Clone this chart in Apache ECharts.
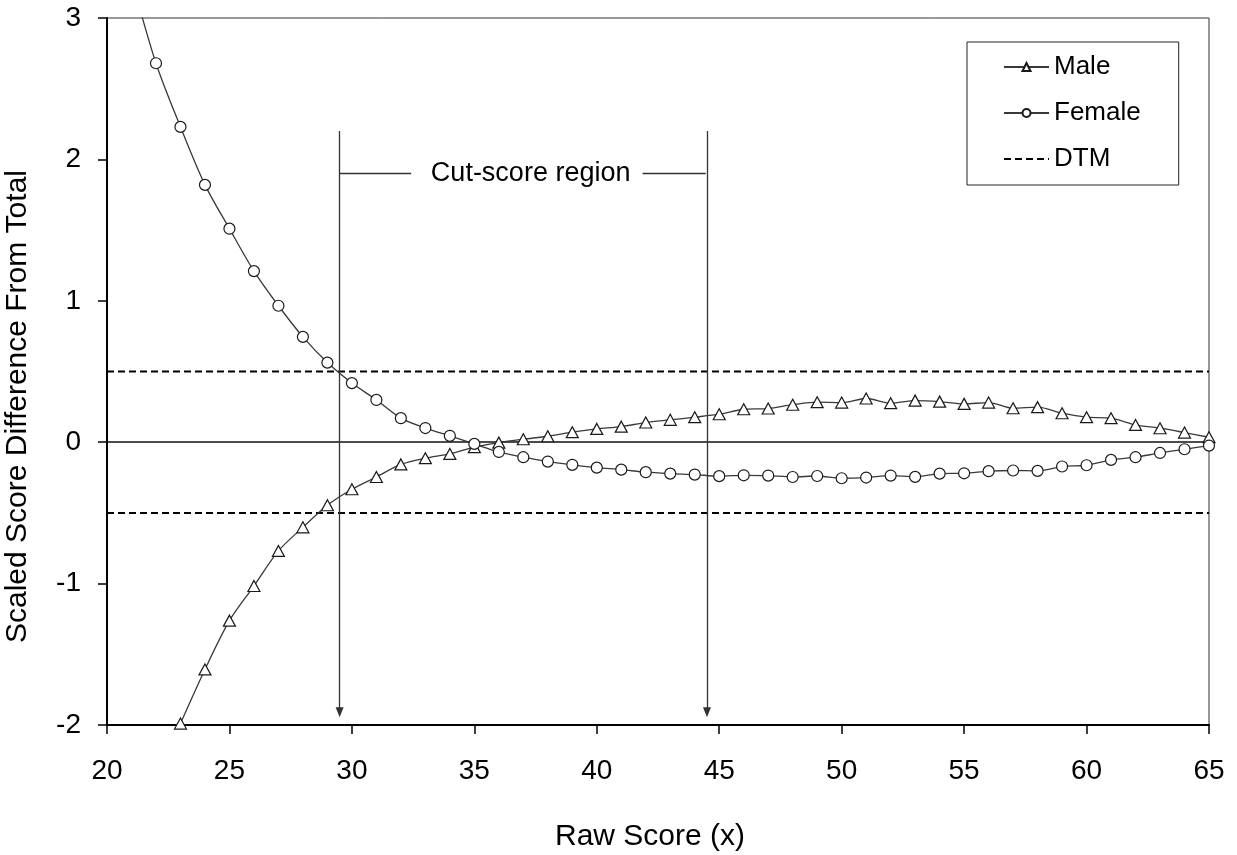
<!DOCTYPE html>
<html>
<head>
<meta charset="utf-8">
<script src="https://cdn.jsdelivr.net/npm/echarts@6/dist/echarts.min.js"></script>
<style>
  html, body { margin: 0; padding: 0; background: #fff; }
  #chart { width: 1237px; height: 855px; }
</style>
</head>
<body>
<div id="chart"></div>
<script>
// Raw scores and scaled-score differences from the total group
const maleScores = [23, 24, 25, 26, 27, 28, 29, 30, 31, 32, 33, 34, 35, 36, 37, 38, 39, 40, 41, 42, 43, 44,
  45, 46, 47, 48, 49, 50, 51, 52, 53, 54, 55, 56, 57, 58, 59, 60, 61, 62, 63, 64, 65];
const maleValues = [-1.99, -1.607, -1.262, -1.017, -0.769, -0.602, -0.446, -0.333, -0.246, -0.157, -0.113,
  -0.083, -0.035, -0.003, 0.021, 0.042, 0.071, 0.094, 0.11, 0.139, 0.158, 0.177,
  0.198, 0.233, 0.238, 0.265, 0.283, 0.28, 0.309, 0.276, 0.294, 0.287, 0.271, 0.28, 0.24, 0.248,
  0.205, 0.177, 0.17, 0.122, 0.099, 0.068, 0.035];

const femaleScores = [21, 22, 23, 24, 25, 26, 27, 28, 29, 30, 31, 32, 33, 34, 35, 36, 37, 38, 39, 40, 41, 42,
  43, 44, 45, 46, 47, 48, 49, 50, 51, 52, 53, 54, 55, 56, 57, 58, 59, 60, 61, 62, 63, 64, 65];
const femaleValues = [3.28, 2.68, 2.23, 1.82, 1.51, 1.21, 0.965, 0.745, 0.563, 0.418, 0.299, 0.17, 0.10,
  0.045, -0.012, -0.069, -0.106, -0.137, -0.16, -0.18, -0.194, -0.212,
  -0.222, -0.229, -0.24, -0.234, -0.236, -0.246, -0.239, -0.255, -0.25, -0.236, -0.245, -0.222,
  -0.22, -0.205, -0.2, -0.203, -0.172, -0.163, -0.125, -0.106, -0.076, -0.05, -0.024];

// Difference That Matters band (+/- half a score point)
const dtmLimits = [0.5, -0.5];
const scoreRange = [20, 65];
const scoreRangeY = [-2, 3];

// Cut-score region annotation
const cutScores = [29.5, 44.5];
const cutLabel = 'Cut-score region';
const cutArrowTop = 2.2;
const cutArrowTip = -1.91;
const cutLabelLevel = 1.9;
const cutLabelGapEdges = [32.42, 41.87, 44.45];
const cutLabelCenter = 37.3;

const FONT = '"Liberation Sans", Arial, sans-serif';
const pairs = (xs, ys) => xs.map((x, i) => [x, ys[i]]);

const lineColor = '#3a3a3a';
const markerStyle = { color: '#ffffff', borderColor: '#1a1a1a', borderWidth: 1.2 };
const clear = 'rgba(0,0,0,0)';

const series = [
  ...dtmLimits.map(v => ({
    name: 'DTM',
    type: 'line',
    data: [[scoreRange[0], v], [scoreRange[1], v]],
    symbol: 'none',
    silent: true,
    z: 2,
    lineStyle: { color: '#000', width: 2, type: [7, 4] }
  })),
  {
    name: 'Reference',
    type: 'line',
    data: [],
    silent: true,
    z: 3,
    markLine: {
      silent: true,
      animation: false,
      symbol: ['none', 'none'],
      label: { show: false },
      lineStyle: { color: '#111', width: 1.5, type: 'solid' },
      data: [[{ coord: [scoreRange[0], 0] }, { coord: [scoreRange[1], 0] }]]
    }
  },
  {
    name: 'Cut',
    type: 'line',
    data: [],
    silent: true,
    z: 3,
    markLine: {
      silent: true,
      symbol: ['none', 'none'],
      animation: false,
      label: { show: false },
      lineStyle: { color: '#333', width: 1.3, type: 'solid' },
      data: [
        ...cutScores.map(c => [
          { coord: [c, cutArrowTop] },
          { coord: [c, cutArrowTip], symbol: 'triangle', symbolSize: [8, 10] }
        ]),
        [{ coord: [cutScores[0], cutLabelLevel] }, { coord: [cutLabelGapEdges[0], cutLabelLevel] }],
        [{ coord: [cutLabelGapEdges[1], cutLabelLevel] }, { coord: [cutLabelGapEdges[2], cutLabelLevel] }]
      ]
    },
    markPoint: {
      silent: true,
      animation: false,
      symbol: 'rect',
      symbolSize: 1,
      itemStyle: { color: clear },
      label: {
        show: true,
        position: 'inside',
        formatter: cutLabel,
        fontSize: 27,
        fontFamily: FONT,
        color: '#000'
      },
      data: [{ coord: [cutLabelCenter, cutLabelLevel] }]
    }
  },
  {
    name: 'Male',
    type: 'line',
    data: pairs(maleScores, maleValues),
    smooth: 0.3,
    clip: true,
    z: 5,
    symbol: 'triangle',
    symbolSize: [12, 11],
    showAllSymbol: true,
    lineStyle: { color: lineColor, width: 1.3 },
    itemStyle: markerStyle
  },
  {
    name: 'Female',
    type: 'line',
    data: pairs(femaleScores, femaleValues),
    smooth: 0.3,
    clip: true,
    z: 5,
    symbol: 'circle',
    symbolSize: 11,
    showAllSymbol: true,
    lineStyle: { color: lineColor, width: 1.3 },
    itemStyle: markerStyle
  }
];

const chart = echarts.init(document.getElementById('chart'), null, { renderer: 'canvas' });
chart.setOption({
  animation: false,
  backgroundColor: '#fff',
  textStyle: { fontFamily: FONT },
  grid: {
    left: 107, right: 28, top: 18, bottom: 130,
    outerBoundsMode: 'none',
    containLabel: false,
    show: true, borderColor: '#333', borderWidth: 1, backgroundColor: clear
  },
  legend: {
    orient: 'vertical',
    left: 967,
    top: 42,
    data: [
      'Male',
      'Female',
      { name: 'DTM', itemStyle: { color: clear, borderColor: clear, borderWidth: 0, opacity: 0 } }
    ],
    selectedMode: false,
    itemWidth: 45,
    itemHeight: 10,
    itemGap: 20,
    padding: [12, 38, 13, 36],
    borderColor: '#222',
    borderWidth: 1,
    backgroundColor: '#fff',
    textStyle: { fontSize: 26, color: '#000', fontFamily: FONT }
  },
  xAxis: {
    type: 'value',
    min: scoreRange[0],
    max: scoreRange[1],
    interval: 5,
    name: 'Raw Score (x)',
    nameLocation: 'middle',
    nameGap: 97,
    nameTextStyle: { fontSize: 30, color: '#000', fontFamily: FONT, padding: [0, 16, 0, 0] },
    axisLine: { show: true, onZero: false, lineStyle: { color: '#000', width: 2 } },
    axisTick: { show: true, inside: false, length: 9, lineStyle: { color: '#000', width: 1.5 } },
    axisLabel: { fontSize: 28, color: '#000', margin: 32, fontFamily: FONT },
    splitLine: { show: false }
  },
  yAxis: {
    type: 'value',
    min: scoreRangeY[0],
    max: scoreRangeY[1],
    interval: 1,
    name: 'Scaled Score Difference From Total',
    nameLocation: 'middle',
    nameGap: 74,
    nameTextStyle: { fontSize: 30, color: '#000', fontFamily: FONT, padding: [0, 70, 0, 0] },
    axisLine: { show: true, onZero: false, lineStyle: { color: '#000', width: 2 } },
    axisTick: { show: true, inside: false, length: 9, lineStyle: { color: '#000', width: 1.5 } },
    axisLabel: { fontSize: 28, color: '#000', margin: 26, fontFamily: FONT },
    splitLine: { show: false }
  },
  series
});
</script>
</body>
</html>
